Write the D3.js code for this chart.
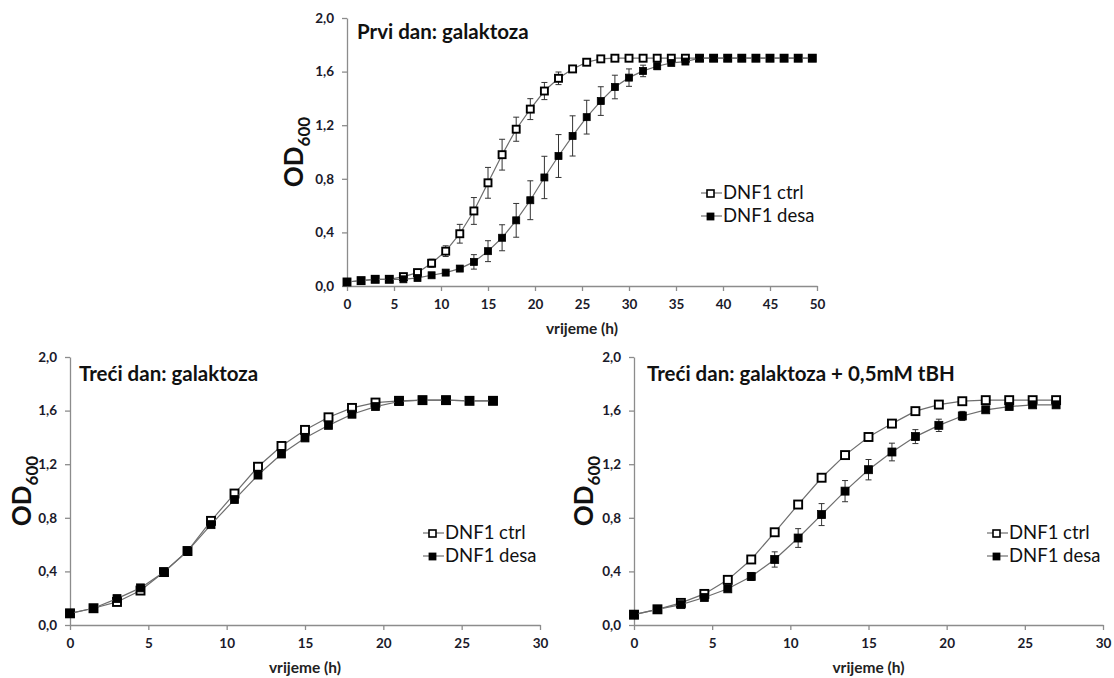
<!DOCTYPE html>
<html>
<head>
<meta charset="utf-8">
<script src="https://cdn.jsdelivr.net/npm/d3@7"></script>
<style>
  body { margin: 0; background: #fff; }
  svg text { font-family: Lato, "Open Sans", sans-serif; }
</style>
</head>
<body>
<svg id="chart" width="1114" height="678"></svg>
<script>
// ---- Data: OD600 growth curves (mean ± error) ----
const seriesNames = ["DNF1 ctrl", "DNF1 desa"];
const yTicks = [0, 0.4, 0.8, 1.2, 1.6, 2.0];

// Panel 1: day one, galactose (sampled every 1.5 h)
const timeA = [0,1.5,3,4.5,6,7.5,9,10.5,12,13.5,15,16.5,18,19.5,21,22.5,24,25.5,27,28.5,30,31.5,33,34.5,36,37.5,39,40.5,42,43.5,45,46.5,48,49.5];
const ctrlA = [0.03,0.04,0.05,0.05,0.07,0.10,0.17,0.26,0.39,0.56,0.77,0.98,1.17,1.32,1.455,1.55,1.62,1.67,1.695,1.70,1.70,1.70,1.70,1.70,1.70,1.70,1.70,1.70,1.70,1.70,1.70,1.70,1.70,1.70];
const ctrlErrA = [0,0,0,0,0.01,0.02,0.03,0.04,0.07,0.10,0.115,0.115,0.09,0.078,0.064,0.047,0.022,0.01,0.005,0,0,0,0,0,0,0,0,0,0,0,0,0,0,0];
const desaA = [0.03,0.04,0.05,0.05,0.05,0.06,0.08,0.10,0.13,0.18,0.26,0.36,0.49,0.64,0.81,0.97,1.12,1.26,1.38,1.485,1.555,1.605,1.64,1.665,1.675,1.70,1.70,1.70,1.70,1.70,1.70,1.70,1.70,1.70];
const desaErrA = [0,0,0,0,0,0.005,0.01,0.015,0.02,0.054,0.078,0.097,0.126,0.145,0.158,0.16,0.15,0.126,0.107,0.088,0.065,0.043,0.025,0.01,0,0,0,0,0,0,0,0,0,0];

// Panel 2: day three, galactose
const timeB = [0,1.5,3,4.5,6,7.5,9,10.5,12,13.5,15,16.5,18,19.5,21,22.5,24,25.5,27];
const ctrlB = [0.087,0.125,0.172,0.257,0.395,0.552,0.777,0.981,1.181,1.336,1.456,1.55,1.62,1.66,1.673,1.678,1.678,1.673,1.673];
const desaB = [0.087,0.125,0.197,0.277,0.395,0.552,0.749,0.936,1.119,1.276,1.396,1.49,1.573,1.63,1.668,1.678,1.678,1.673,1.673];

// Panel 3: day three, galactose + 0.5 mM tBH
const timeC = timeB;
const ctrlC = [0.077,0.117,0.165,0.232,0.337,0.489,0.692,0.899,1.099,1.268,1.403,1.503,1.596,1.645,1.670,1.678,1.678,1.678,1.678];
const ctrlErrC = [0,0,0.005,0.01,0.01,0.012,0.012,0.012,0.012,0.012,0.012,0.012,0.01,0.01,0.008,0.005,0,0,0];
const desaC = [0.077,0.117,0.152,0.205,0.27,0.362,0.489,0.649,0.824,0.999,1.159,1.291,1.406,1.49,1.56,1.606,1.63,1.643,1.643];
const desaErrC = [0,0,0.005,0.01,0.02,0.03,0.057,0.07,0.082,0.079,0.076,0.066,0.052,0.046,0.034,0.02,0.015,0.005,0];

const xTicksA = [0,5,10,15,20,25,30,35,40,45,50];
const xTicksBC = [0,5,10,15,20,25,30];

// ---- Panel layout ----
const panels = [
  { title: "Prvi dan: galaktoza", left: 347, right: 817, top: 18, bottom: 286, xMax: 50, xTicks: xTicksA,
    time: timeA, ctrl: ctrlA, ctrlErr: ctrlErrA, desa: desaA, desaErr: desaErrA,
    titleX: 357, titleY: 39, odX: 303, legendX: 710, legendY: 193, marker: 7 },
  { title: "Treći dan: galaktoza", left: 70, right: 540, top: 357, bottom: 625, xMax: 30, xTicks: xTicksBC,
    time: timeB, ctrl: ctrlB, ctrlErr: null, desa: desaB, desaErr: null,
    titleX: 79, titleY: 381, odX: 31, legendX: 432, legendY: 533, marker: 8 },
  { title: "Treći dan: galaktoza + 0,5mM tBH", left: 634, right: 1103, top: 357, bottom: 625, xMax: 30, xTicks: xTicksBC,
    time: timeC, ctrl: ctrlC, ctrlErr: ctrlErrC, desa: desaC, desaErr: desaErrC,
    titleX: 647, titleY: 381, odX: 593, legendX: 996, legendY: 533, marker: 8 }
];

const svg = d3.select("#chart");
const axisColor = "#8c8c8c";
const lineColor = "#6e6e6e";
const fmt = d => d.toFixed(1).replace(".", ",");

panels.forEach(p => {
  const x = d3.scaleLinear().domain([0, p.xMax]).range([p.left, p.right]);
  const y = d3.scaleLinear().domain([0, 2]).range([p.bottom, p.top]);
  const g = svg.append("g");

  // axes
  const xAxis = g.append("g").attr("transform", `translate(0,${p.bottom})`)
    .call(d3.axisBottom(x).tickValues(p.xTicks).tickSize(5).tickSizeOuter(0).tickPadding(6).tickFormat(d3.format("d")));
  const yAxis = g.append("g").attr("transform", `translate(${p.left},0)`)
    .call(d3.axisLeft(y).tickValues(yTicks).tickSize(5).tickSizeOuter(0).tickPadding(6).tickFormat(fmt));
  [xAxis, yAxis].forEach(a => {
    a.select(".domain").attr("stroke", axisColor).attr("stroke-width", 1.3);
    a.selectAll(".tick line").attr("stroke", axisColor).attr("stroke-width", 1.3);
    a.selectAll(".tick text").attr("fill", "#1a1a2a").attr("font-weight", "bold").attr("font-size", 13.5);
  });
  xAxis.selectAll(".tick text").attr("dy", "0.9em");
  yAxis.selectAll(".tick text").attr("dx", "-2");

  // axis titles
  g.append("text").attr("x", (p.left + p.right) / 2).attr("y", p.bottom + 48)
    .attr("text-anchor", "middle").attr("font-weight", "bold").attr("font-size", 15.5).attr("fill", "#222")
    .text("vrijeme (h)");
  const od = g.append("text").attr("transform", `translate(${p.odX},${(p.top + p.bottom) / 2}) rotate(-90)`)
    .attr("text-anchor", "middle").attr("font-weight", "bold").attr("fill", "#111");
  od.append("tspan").attr("font-size", 26).text("OD");
  od.append("tspan").attr("font-size", 17).attr("dy", 7).text("600");

  // title
  g.append("text").attr("x", p.titleX).attr("y", p.titleY)
    .attr("font-weight", "bold").attr("font-size", 20.5).attr("fill", "#111").text(p.title);

  const line = d3.line().x(d => x(d[0])).y(d => y(d[1]));
  const drawSeries = (vals, errs, filled) => {
    const pts = p.time.map((t, i) => [t, vals[i], errs ? errs[i] : 0]);
    g.append("path").datum(pts).attr("d", line).attr("fill", "none")
      .attr("stroke", lineColor).attr("stroke-width", 1.2);
    if (errs) {
      const eb = g.append("g").attr("stroke", "#333").attr("stroke-width", 1);
      pts.filter(d => d[2] > 0.012).forEach(d => {
        const cx = x(d[0]), y1 = y(d[1] + d[2]), y2 = y(d[1] - d[2]);
        eb.append("line").attr("x1", cx).attr("x2", cx).attr("y1", y1).attr("y2", y2);
        eb.append("line").attr("x1", cx - 3).attr("x2", cx + 3).attr("y1", y1).attr("y2", y1);
        eb.append("line").attr("x1", cx - 3).attr("x2", cx + 3).attr("y1", y2).attr("y2", y2);
      });
    }
    const s = p.marker;
    g.append("g").selectAll("rect").data(pts).join("rect")
      .attr("x", d => x(d[0]) - s / 2).attr("y", d => y(d[1]) - s / 2)
      .attr("width", s).attr("height", s)
      .attr("fill", filled ? "#000" : "#fff")
      .attr("stroke", "#000").attr("stroke-width", filled ? 0.8 : 1.9);
  };
  drawSeries(p.ctrl, p.ctrlErr, false);
  drawSeries(p.desa, p.desaErr, true);

  // legend
  seriesNames.forEach((name, i) => {
    const ly = p.legendY + i * 23;
    const lg = g.append("g");
    lg.append("line").attr("x1", p.legendX - 9).attr("x2", p.legendX + 12).attr("y1", ly).attr("y2", ly)
      .attr("stroke", lineColor).attr("stroke-width", 1.2);
    lg.append("rect").attr("x", p.legendX - 3).attr("y", ly - 3).attr("width", 7).attr("height", 7)
      .attr("fill", i === 0 ? "#fff" : "#000").attr("stroke", "#000").attr("stroke-width", i === 0 ? 1.6 : 0.8);
    lg.append("text").attr("x", p.legendX + 13).attr("y", ly + 6)
      .attr("font-size", 18.5).attr("fill", "#111").text(name);
  });
});
</script>
</body>
</html>
